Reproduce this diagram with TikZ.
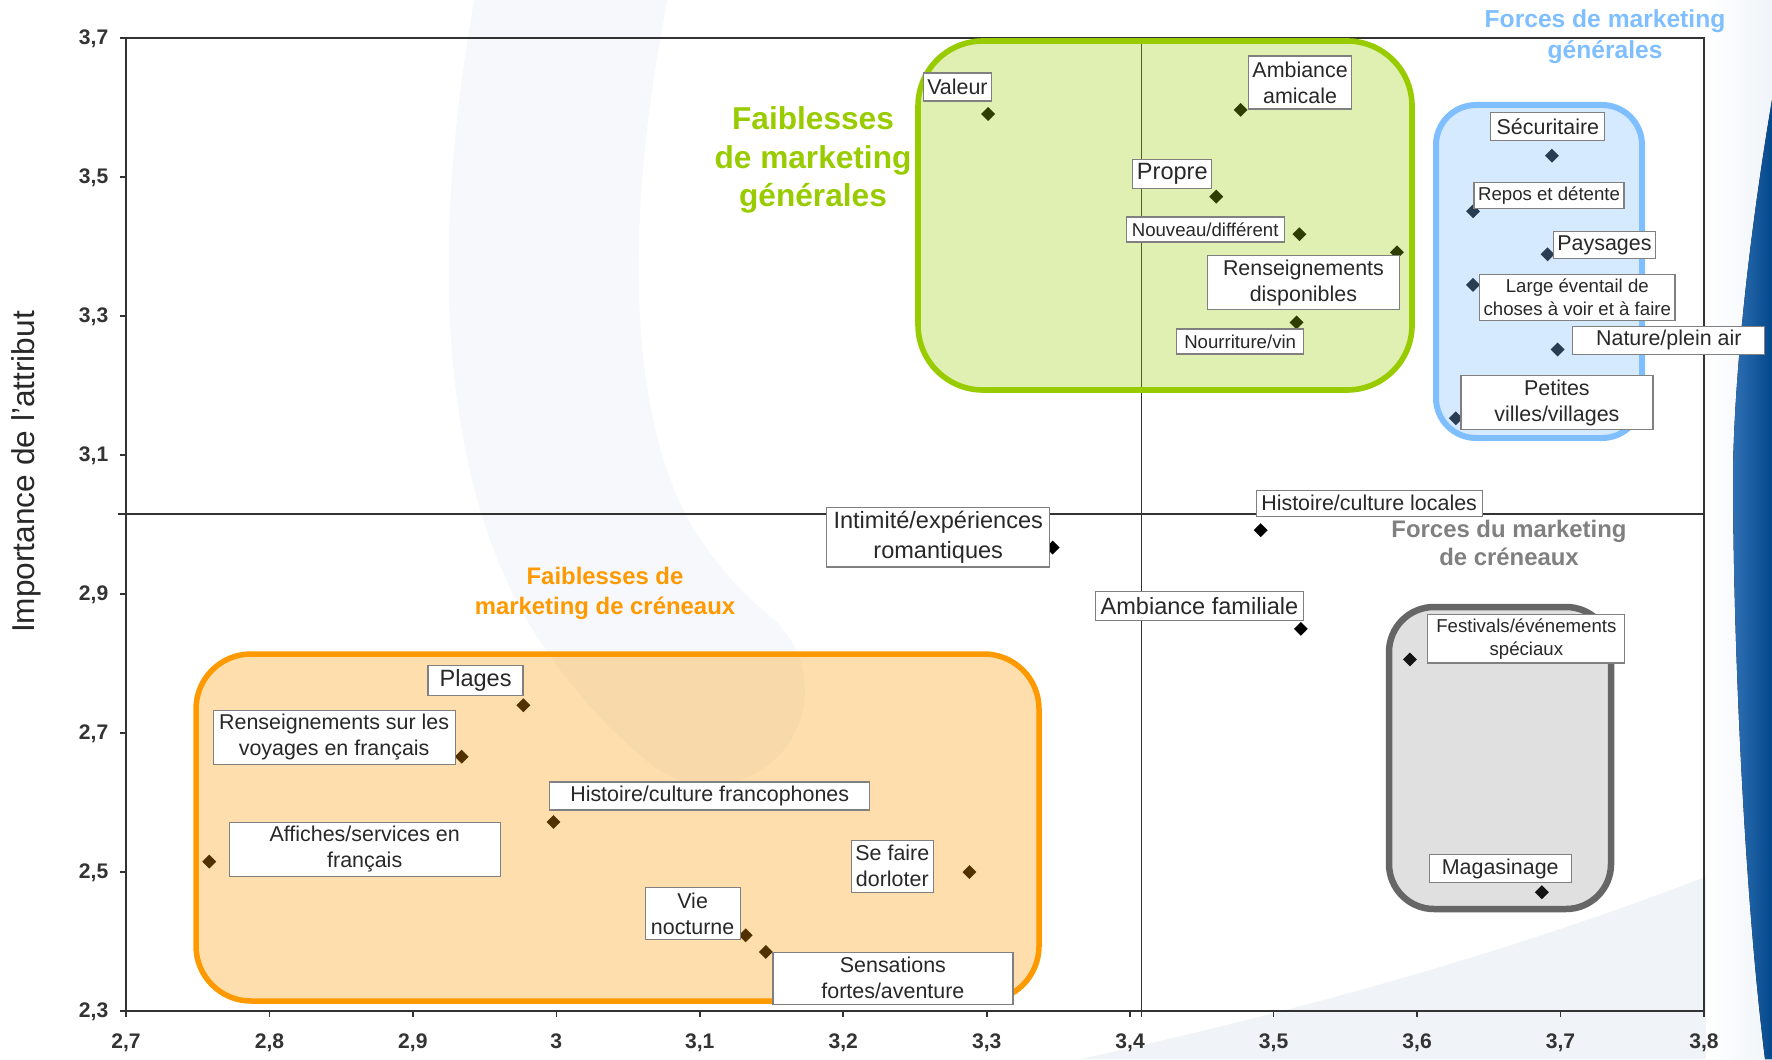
\documentclass[tikz,border=0pt]{standalone}
\usepackage{fontspec}
\setmainfont{Liberation Sans}
\usetikzlibrary{shapes.geometric}

\definecolor{axisgray}{RGB}{51,51,51}
\definecolor{textgray}{RGB}{40,40,40}
\definecolor{tagline}{RGB}{128,128,128}
\definecolor{genweak}{RGB}{153,204,0}
\definecolor{genstrong}{RGB}{128,191,255}
\definecolor{nicheweak}{RGB}{255,153,0}
\definecolor{nichestrong}{RGB}{102,102,102}
\definecolor{nichetitle}{RGB}{128,128,128}
\definecolor{paleband}{RGB}{246,248,252}
\definecolor{paleedge}{RGB}{240,244,249}
\definecolor{swooshlight}{RGB}{48,112,180}
\definecolor{swooshdark}{RGB}{4,72,140}

\newcommand{\tagfont}{\fontsize{6.1}{7.4}\selectfont}
\newcommand{\tagsmall}{\fontsize{5.3}{6.4}\selectfont}
\newcommand{\tagbig}{\fontsize{6.7}{8.4}\selectfont}

\tikzstyle{point} = [diamond, fill=black, inner sep=0pt, minimum size=1.45mm]
\tikzstyle{tag} = [rectangle, draw=tagline, line width=0.35pt, fill=white, text=textgray, align=center, inner sep=0.4mm, font=\tagfont]
\tikzstyle{zone} = [fill opacity=0.32]
\tikzstyle{ticklabel} = [font=\bfseries\fontsize{6}{7}\selectfont, text=axisgray, inner sep=0pt, text height=1.6mm, text depth=0.4mm]
\tikzset{data/.style={x=14.345cm, y=6.948cm, shift={(-37.4715cm,-26.0904cm)}}}

\begin{document}
\begin{tikzpicture}[x=0.1mm, y=-0.1mm]
    \useasboundingbox (0,0) rectangle (1772,1059);

    % background swooshes
    \draw [paleband, line width=19mm, line cap=round] (583,-60) .. controls (515,250) and (540,470) .. (620,590) .. controls (650,635) and (680,665) .. (710,690);
    \fill [paleedge] (1080,1059) .. controls (1350,1000) and (1580,930) .. (1772,850) -- (1772,1059) -- cycle;
    \fill [left color=white, right color=paleedge] (1706,0) rectangle (1772,1059);
    \fill [left color=swooshlight, right color=swooshdark] (1772,100) .. controls (1755,200) and (1735,350) .. (1733,470) .. controls (1733,650) and (1745,900) .. (1765,1059) -- (1772,1059) -- cycle;

    \begin{scope}[data]
        % frame and ticks
        \draw [axisgray, line width=0.45pt] (2.7,3.7) -- (3.8,3.7) -- (3.8,2.3);
        \draw [axisgray, line width=0.75pt] (2.7,3.7) -- (2.7,2.3) -- (3.8,2.3);
        \foreach \y/\t [count=\i] in {2.3/{2,3},2.5/{2,5},2.7/{2,7},2.9/{2,9},3.1/{3,1},3.3/{3,3},3.5/{3,5},3.7/{3,7}} {
            \draw [axisgray, line width=0.45pt] (2.7,\y) -- ++(-0.6mm,0);
            \node [ticklabel, anchor=east, xshift=-1.7mm] (yt\i) at (2.7,\y) {\t};
        }
        \foreach \x/\t [count=\i] in {2.7/{2,7},2.8/{2,8},2.9/{2,9},3/3,3.1/{3,1},3.2/{3,2},3.3/{3,3},3.4/{3,4},3.5/{3,5},3.6/{3,6},3.7/{3,7},3.8/{3,8}} {
            \draw [axisgray, line width=0.45pt] (\x,2.3) -- ++(0,-0.6mm);
            \node [ticklabel, yshift=-3.1mm] (xt\i) at (\x,2.3) {\t};
        }
        % quadrant lines
        \draw [axisgray, line width=0.45pt] (3.408,2.3) ++(0,-0.6mm) -- (3.408,3.7);
        \draw [axisgray, line width=0.45pt] (2.7,3.015) ++(-0.8mm,0) -- (3.8,3.015);

        % attributes
        \foreach \n/\x/\y in {valeur/3.301/3.591, ambamic/3.477/3.597, propre/3.460/3.472, nouveau/3.518/3.418,
            renseign/3.586/3.392, nourrit/3.516/3.291, securit/3.694/3.531, repos/3.639/3.451,
            paysages/3.691/3.389, eventail/3.639/3.345, nature/3.698/3.252, villages/3.627/3.153,
            histloc/3.491/2.992, intimite/3.346/2.967, ambfam/3.519/2.850, festivals/3.595/2.806,
            magasin/3.687/2.471, plages/2.977/2.740, rensfr/2.934/2.666, histfr/2.998/2.572,
            affiches/2.758/2.515, dorloter/3.288/2.500, nocturne/3.132/2.409, sensations/3.146/2.385}
            \node [point] (p\n) at (\x,\y) {};
    \end{scope}

    % zones
    \draw [zone, fill opacity=0.3, draw=genweak, fill=genweak, line width=0.56mm, rounded corners=6.5mm] (918,41) rectangle (1412,390);
    \draw [zone, draw=genstrong, fill=genstrong, line width=0.6mm, rounded corners=4mm] (1436,105) rectangle (1642,438);
    \draw [zone, draw=nicheweak, fill=nicheweak, line width=0.55mm, rounded corners=5.5mm] (196,654) rectangle (1039,1001);
    \draw [zone, fill opacity=0.2, draw=nichestrong, fill=nichestrong, line width=0.65mm, rounded corners=4.5mm] (1389,607) rectangle (1611,909);

    \begin{scope}[data]
        \node [tag, minimum width=6.55mm, minimum height=2.8mm] (valeur) at (3.2796,3.630) {Valeur};
        \node [tag, minimum width=9.7mm, minimum height=5.3mm] (ambamic) at (3.5185,3.6365) {Ambiance\\amicale};
        \node [tag, font=\tagbig, minimum width=7.9mm, minimum height=2.9mm] (propre) at (3.4294,3.5047) {Propre};
        \node [tag, font=\tagsmall, minimum width=15.8mm, minimum height=2.5mm] (nouveau) at (3.4523,3.4249) {Nouveau/différent};
        \node [tag, minimum width=19.2mm, minimum height=5.2mm] (renseign) at (3.5208,3.3484) {Renseignements\\disponibles};
        \node [tag, font=\tagsmall, minimum width=12.7mm, minimum height=2.5mm] (nourrit) at (3.4767,3.2637) {Nourriture/vin};
        \node [tag, minimum width=11.4mm, minimum height=2.8mm] (securit) at (3.6912,3.573) {Sécuritaire};
        \node [tag, font=\tagsmall, minimum width=14.5mm, minimum height=2.4mm] (repos) at (3.6920,3.4737) {Repos et détente};
        \node [tag, minimum width=9.7mm, minimum height=2.7mm] (paysages) at (3.7306,3.4021) {Paysages};
        \node [tag, font=\tagsmall, minimum width=19.3mm, minimum height=4.6mm] (eventail) at (3.7117,3.3272) {Large éventail de\\choses à voir et à faire};
        \node [tag, minimum width=19.2mm, minimum height=2.8mm] (nature) at (3.7755,3.2653) {Nature/plein air};
        \node [tag, minimum width=19.2mm, minimum height=5.2mm] (villages) at (3.6975,3.1758) {Petites\\villes/villages};
        \node [tag, minimum width=22.6mm, minimum height=2.6mm] (histloc) at (3.5666,3.0309) {Histoire/culture locales};
        \node [tag, font=\tagbig, minimum width=22.3mm, minimum height=5.9mm] (intimite) at (3.2662,2.9821) {Intimité/expériences\\romantiques};
        \node [tag, font=\tagbig, minimum width=20.8mm, minimum height=2.9mm] (ambfam) at (3.4483,2.8828) {Ambiance familiale};
        \node [tag, font=\tagsmall, minimum width=19.7mm, minimum height=4.5mm] (festivals) at (3.6762,2.8356) {Festivals/événements\\spéciaux};
        \node [tag, minimum width=14.2mm, minimum height=2.6mm] (magasin) at (3.6580,2.5051) {Magasinage};
        \node [tag, font=\tagbig, minimum width=9.5mm, minimum height=2.9mm] (plages) at (2.9437,2.7754) {Plages};
        \node [tag, minimum width=24.2mm, minimum height=5.4mm] (rensfr) at (2.8451,2.6940) {Renseignements sur les\\voyages en français};
        \node [tag, minimum width=32.0mm, minimum height=2.6mm] (histfr) at (3.1069,2.6093) {Histoire/culture francophones};
        \node [tag, minimum width=27.1mm, minimum height=5.1mm] (affiches) at (2.8664,2.5328) {Affiches/services en\\français};
        \node [tag, minimum width=8.0mm, minimum height=5.2mm] (dorloter) at (3.2342,2.5084) {Se faire\\dorloter};
        \node [tag, minimum width=9.5mm, minimum height=5.2mm] (nocturne) at (3.0950,2.44) {Vie\\nocturne};
        \node [tag, minimum width=24.0mm, minimum height=5.2mm] (sensations) at (3.2346,2.3472) {Sensations\\fortes/aventure};
    \end{scope}

    % zone titles
    \node [align=center, text=genweak, font=\bfseries\fontsize{9}{10.9}\selectfont] (gwtitle) at (813,160) {Faiblesses\\de marketing\\générales};
    \node [align=center, text=genstrong, font=\bfseries\fontsize{7}{8.8}\selectfont] (gstitle) at (1605,37) {Forces de marketing\\générales};
    \node [align=center, text=nicheweak, font=\bfseries\fontsize{6.8}{8.5}\selectfont] (nwtitle) at (605,593) {Faiblesses de\\marketing de créneaux};
    \node [align=center, text=nichetitle, font=\bfseries\fontsize{6.8}{8}\selectfont] (nstitle) at (1509,543) {Forces du marketing\\de créneaux};
    \node [rotate=90, text=textgray, font=\fontsize{9}{11}\selectfont] (ytitle) at (26,472) {Importance de l’attribut};
\end{tikzpicture}
\end{document}
